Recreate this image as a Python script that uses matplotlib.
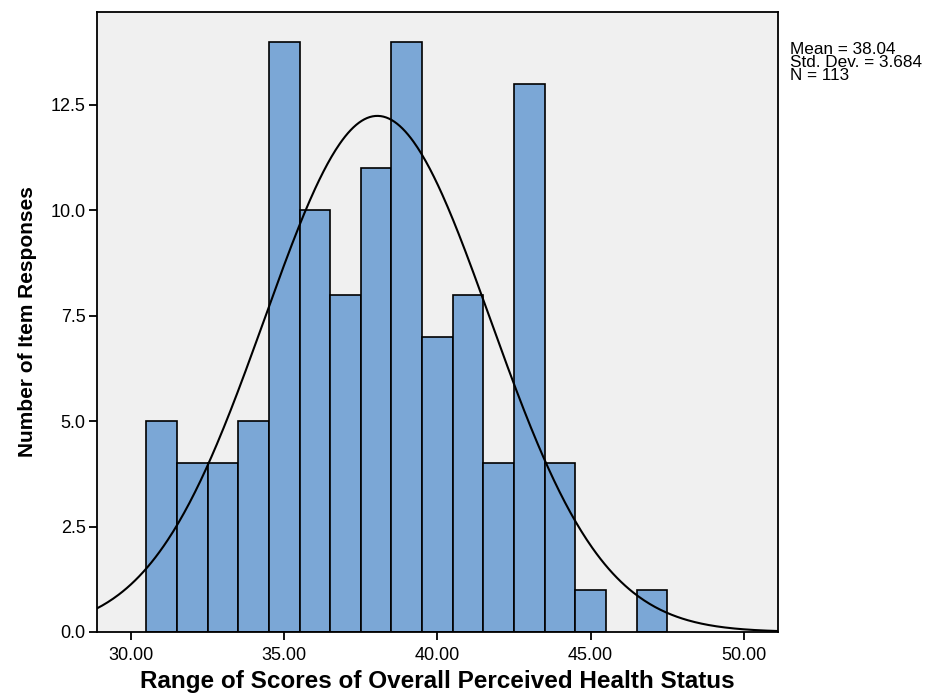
import numpy as np
import matplotlib
matplotlib.use("Agg")
import matplotlib.pyplot as plt

bin_lefts = [30.5, 31.5, 32.5, 33.5, 34.5, 35.5, 36.5, 37.5, 38.5, 39.5, 40.5, 41.5, 42.5, 43.5, 44.5, 45.5, 46.5]
counts = [5, 4, 4, 5, 14, 10, 8, 11, 14, 7, 8, 4, 13, 4, 1, 0, 1]
bin_width = 1.0
mean = 38.04
std = 3.684
n = 113
xticks = [30, 35, 40, 45, 50]
yticks = [0.0, 2.5, 5.0, 7.5, 10.0, 12.5]

plt.rcParams['font.family'] = ['Liberation Sans', 'DejaVu Sans']

fig = plt.figure(figsize=(9.32, 6.98), dpi=100)
ax = fig.add_axes([0.1038, 0.0946, 0.7310, 0.8882])
ax.set_facecolor('#f0f0f0')

for l, c in zip(bin_lefts, counts):
    if c > 0:
        ax.bar(l, c, width=bin_width, align='edge', color='#7ba7d6',
               edgecolor='black', linewidth=1.2, zorder=2)

xlim = (28.88, 51.12)
xs = np.linspace(xlim[0], xlim[1], 500)
ys = n * bin_width / (std * np.sqrt(2 * np.pi)) * np.exp(-0.5 * ((xs - mean) / std) ** 2)
ax.plot(xs, ys, color='black', linewidth=1.5, zorder=3)

ax.set_xlim(*xlim)
ax.set_ylim(0, 14.7)
ax.set_xticks(xticks)
ax.set_xticklabels([f"{t:.2f}" for t in xticks], fontsize=13)
ax.set_yticks(yticks)
ax.set_yticklabels([f"{t:.1f}" for t in yticks], fontsize=13)
ax.tick_params(direction='out', length=6, width=1.3, colors='black')
ax.tick_params(axis='x', pad=5)
ax.tick_params(axis='y', pad=2)
for s in ax.spines.values():
    s.set_linewidth(1.3)

ax.set_xlabel('Range of Scores of Overall Perceived Health Status', fontsize=17.5,
              fontweight='bold', labelpad=4)
ax.set_ylabel('Number of Item Responses', fontsize=15, fontweight='bold', labelpad=10)

fig.text(790 / 932, 1 - 42 / 698, f"Mean = {mean:.2f}\nStd. Dev. = {std:.3f}\nN = {n}",
         fontsize=12.3, va='top', ha='left', linespacing=0.84)

fig.savefig('out.png', dpi=100)
